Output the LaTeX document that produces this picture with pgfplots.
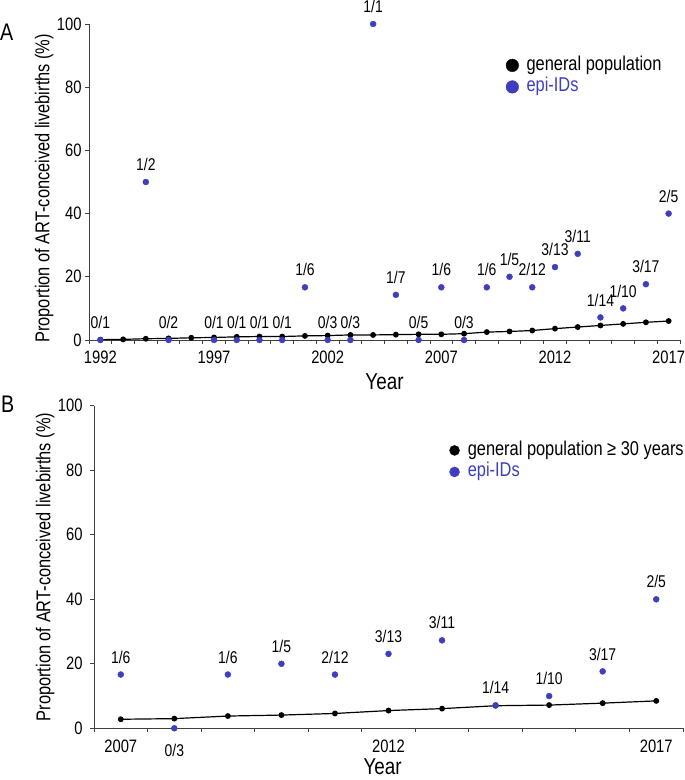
\documentclass[border=0pt]{standalone}
\usepackage{fontspec}
\setmainfont{Liberation Sans}[FakeStretch=0.82]
\usepackage{pgfplots}
\usepackage{pgfplotstable}
\pgfplotsset{compat=1.18}
\definecolor{epiblue}{RGB}{62,62,190}

\pgfplotstableread{
x y
1992 0.1
1993 0.2
1994 0.4
1995 0.5
1996 0.7
1997 0.8
1998 1.0
1999 1.1
2000 1.1
2001 1.3
2002 1.4
2003 1.6
2004 1.6
2005 1.7
2006 1.8
2007 1.8
2008 2.0
2009 2.5
2010 2.7
2011 3.0
2012 3.6
2013 4.1
2014 4.6
2015 5.1
2016 5.6
2017 6.0
}\genA

\pgfplotstableread{
x y lab
1992 0 0/1
1994 50 1/2
1995 0 0/2
1997 0 0/1
1998 0 0/1
1999 0 0/1
2000 0 0/1
2001 16.67 1/6
2002 0 0/3
2003 0 0/3
2004 100 1/1
2005 14.29 1/7
2006 0 0/5
2007 16.67 1/6
2008 0 0/3
2009 16.67 1/6
2010 20 1/5
2011 16.67 2/12
2012 23.08 3/13
2013 27.27 3/11
2014 7.14 1/14
2015 10 1/10
2016 17.65 3/17
2017 40 2/5
}\epiA

\pgfplotstableread{
x y
2007 2.8
2008 3.0
2009 3.8
2010 4.1
2011 4.6
2012 5.5
2013 6.1
2014 7.0
2015 7.2
2016 7.8
2017 8.5
}\genB

\pgfplotstableread{
x y lab
2007 16.67 1/6
2009 16.67 1/6
2010 20 1/5
2011 16.67 2/12
2012 23.08 3/13
2013 27.27 3/11
2014 7.14 1/14
2015 10 1/10
2016 17.65 3/17
2017 40 2/5
}\epiB

\pgfplotstableread{
x y lab
2008 0 0/3
}\epiBzero

\pgfplotsset{
  myaxis/.style={
    scale only axis,
    ymin=0, ymax=100,
    axis lines=left,
    axis line style={-, black!75, line width=0.9pt},
    clip=false,
    tick align=outside,
    major tick length=4pt,
    minor tick length=4pt,
    tick style={black!75, line width=0.9pt},
    every major x tick/.append style={draw=none},
    ytick={0,20,40,60,80,100},
    ticklabel style={font=\fontsize{18}{21}\selectfont},
    /pgf/number format/assume math mode=true,
    xlabel={Year},
    xlabel style={font=\fontsize{23}{26}\selectfont, anchor=center},
    ylabel={Proportion of ART-conceived livebirths (\%)},
    ylabel style={font=\fontsize{20}{23}\selectfont, anchor=center},
    legend style={draw=none, fill=none, anchor=north west, inner sep=0pt,
      font=\fontsize{20}{23}\selectfont, row sep=1pt,
      nodes={inner sep=1pt, text height=14pt, text depth=4.5pt}},
    legend cell align=left,
  },
  genline/.style={black, line width=1.2pt, mark=*, mark size=2.3pt},
  epipts/.style={only marks, mark=*, mark size=3pt, color=epiblue,
    nodes near coords, point meta=explicit symbolic,
    every node near coord/.append style={anchor=south, inner sep=0pt, yshift=11pt,
      font=\fontsize{17}{19}\selectfont, text=black}},
}

\begin{document}
\begin{tikzpicture}
\useasboundingbox (0pt,0pt) rectangle (685pt,780pt);
\node[anchor=west, font=\fontsize{24}{27}\selectfont, inner sep=0pt] at (0pt,748pt) {A};
\node[anchor=west, font=\fontsize{24}{27}\selectfont, inner sep=0pt] at (1pt,376pt) {B};

\begin{axis}[myaxis,
  at={(89pt,440pt)}, anchor=south west,
  width=591pt, height=316pt,
  xmin=1991.5, xmax=2017.5,
  xtick={1992,1997,2002,2007,2012,2017},
  xticklabels={1992,1997,2002,2007,2012,2017},
  xticklabel style={yshift=-3pt},
  minor xtick={1991.5,1992.5,1993.5,1994.5,1995.5,1996.5,1997.5,1998.5,1999.5,2000.5,2001.5,2002.5,2003.5,2004.5,2005.5,2006.5,2007.5,2008.5,2009.5,2010.5,2011.5,2012.5,2013.5,2014.5,2015.5,2016.5,2017.5},
  xlabel style={at={(axis description cs:0.5,-0.132)}},
  ylabel style={at={(axis description cs:-0.076,0.48)}},
  legend style={at={(axis description cs:0.705,0.902)}},
]
\addlegendimage{legend image code/.code={\fill[black] (0pt,0pt) circle (6.3pt); \path (13pt,0pt);}}
\addlegendentry{general population}
\addlegendimage{legend image code/.code={\fill[epiblue] (0pt,0pt) circle (6.3pt); \path (13pt,0pt);}}
\addlegendentry{\textcolor{epiblue}{epi-IDs}}
\addplot[genline, forget plot] table[x=x, y=y] {\genA};
\addplot[epipts, forget plot] table[x=x, y=y, meta=lab] {\epiA};
\end{axis}

\begin{axis}[myaxis,
  at={(94pt,51.7pt)}, anchor=south west,
  width=589pt, height=322.5pt,
  xmin=2006.5, xmax=2017.5,
  xtick={2007,2012,2017},
  xticklabels={2007,2012,2017},
  xticklabel style={yshift=-4pt},
  yticklabel style={xshift=-4pt},
  minor xtick={2006.5,2007.5,2008.5,2009.5,2010.5,2011.5,2012.5,2013.5,2014.5,2015.5,2016.5,2017.5},
  xlabel style={at={(axis description cs:0.49,-0.119)}},
  ylabel style={at={(axis description cs:-0.083,0.5)}},
  legend style={at={(axis description cs:0.603,0.894)}},
]
\addlegendimage{legend image code/.code={\fill[black] (0pt,0pt) circle (5pt); \path (12pt,0pt);}}
\addlegendentry{general population ≥ 30 years}
\addlegendimage{legend image code/.code={\fill[epiblue] (0pt,0pt) circle (5pt); \path (12pt,0pt);}}
\addlegendentry{\textcolor{epiblue}{epi-IDs}}
\addplot[genline, forget plot] table[x=x, y=y] {\genB};
\addplot[epipts, forget plot] table[x=x, y=y, meta=lab] {\epiB};
\addplot[epipts, forget plot, every node near coord/.append style={anchor=north, yshift=-27pt}] table[x=x, y=y, meta=lab] {\epiBzero};
\end{axis}
\end{tikzpicture}
\end{document}
